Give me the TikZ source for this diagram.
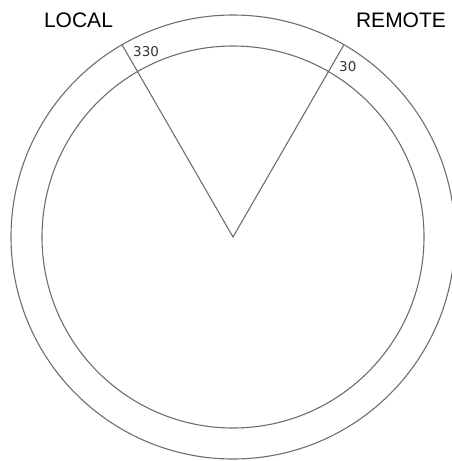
\documentclass[tikz,border=0pt]{standalone}
\usepackage{fontspec}
\setmainfont{Liberation Sans}
\newfontfamily\labfont{DejaVu Sans}
\definecolor{ring}{HTML}{6E6E6E}
\definecolor{labc}{HTML}{333333}
\begin{document}
\begin{tikzpicture}[x=1pt,y=-1pt,
  ringline/.style={draw=ring,line width=1.1pt},
  title/.style={font=\fontsize{21}{21}\selectfont,text=black,inner sep=0pt,anchor=base},
  anglab/.style={font=\labfont\fontsize{13.5}{13.5}\selectfont,text=labc,inner sep=0pt,anchor=base west}]
\useasboundingbox (0,0) rectangle (452,461);
\coordinate (c) at (233,237);
\coordinate (lo) at (122,44.7);
\coordinate (ro) at (344,44.7);
\draw[ringline] (c) circle[radius=222];
\draw[ringline] (c) circle[radius=191];
\draw[ringline] (lo) -- (c) -- (ro);
\node[title] (local) at (78.5,27.5) {LOCAL};
\node[title] (remote) at (401,27.5) {REMOTE};
\node[anglab] (a330) at (133,56.5) {330};
\node[anglab] (a30) at (339,71.5) {30};
\end{tikzpicture}
\end{document}
